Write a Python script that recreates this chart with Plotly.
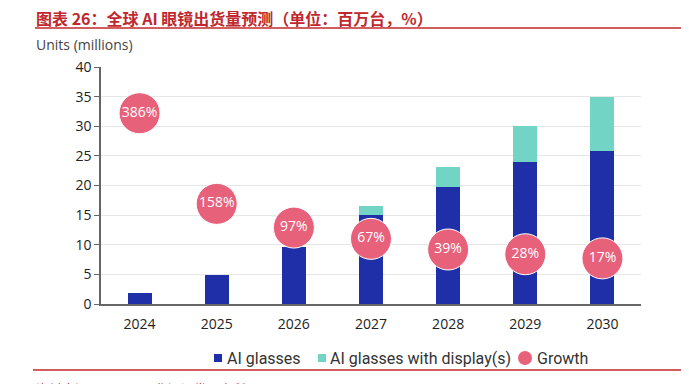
import plotly.graph_objects as go

years = ["2024", "2025", "2026", "2027", "2028", "2029", "2030"]
ai_glasses = [1.9, 4.9, 9.7, 15, 19.7, 24, 25.8]
ai_display = [0, 0, 0, 1.6, 3.5, 6, 9.2]
growth_labels = ["386%", "158%", "97%", "67%", "39%", "28%", "17%"]
growth_pos = [32.2, 16.9, 12.9, 11.0, 9.2, 8.4, 7.7]
y_ticks = [0, 5, 10, 15, 20, 25, 30, 35, 40]
legend_names = ["AI glasses", "AI glasses with display(s)", "Growth"]

BLUE = "#1f2fa8"
TEAL = "#72d4c4"
PINK = "#e8617b"
RED = "#c0282d"

# page has an 8px body margin; plot area in page pixels: x 101..641, y 67..304
OFF = 8
W, H = 689 - OFF, 384 - OFF
PL, PR, PT, PB = 101, 641, 67, 304
L, R, T, B = PL - OFF, W - (PR - OFF), PT - OFF, H - (PB - OFF)
pw, ph = PR - PL, PB - PT


def px(x):
    return (x - PL) / pw


def py(y):
    return (PB - y) / ph


fig = go.Figure()
fig.add_trace(go.Bar(x=years, y=ai_glasses, name=legend_names[0], marker_color=BLUE,
                     marker_line_width=0, width=0.31))
fig.add_trace(go.Bar(x=years, y=ai_display, name=legend_names[1], marker_color=TEAL,
                     marker_line_width=0, width=0.31))
fig.add_trace(go.Scatter(x=years, y=growth_pos, name=legend_names[2], mode="markers+text",
                         marker=dict(color=PINK, size=41, line=dict(color="white", width=1)),
                         text=growth_labels, textposition="middle center",
                         textfont=dict(color="white", size=14, family="Open Sans")))

ly = 358
legend_shapes = [
    dict(type="rect", xref="paper", yref="paper", x0=px(214), x1=px(222), y0=py(362), y1=py(354),
         fillcolor=BLUE, line=dict(width=0)),
    dict(type="rect", xref="paper", yref="paper", x0=px(318), x1=px(326), y0=py(362), y1=py(354),
         fillcolor=TEAL, line=dict(width=0)),
    dict(type="circle", xref="paper", yref="paper", x0=px(518), x1=px(532), y0=py(365), y1=py(351),
         fillcolor=PINK, line=dict(width=0)),
]
legend_font = dict(size=16, color="#333", family="Liberation Sans Narrow, Roboto")
legend_ann = [
    dict(text=legend_names[0], xref="paper", yref="paper", x=px(225), y=py(ly), xanchor="left",
         yanchor="middle", showarrow=False, font=legend_font),
    dict(text=legend_names[1], xref="paper", yref="paper", x=px(328), y=py(ly), xanchor="left",
         yanchor="middle", showarrow=False, font=legend_font),
    dict(text=legend_names[2], xref="paper", yref="paper", x=px(535), y=py(ly), xanchor="left",
         yanchor="middle", showarrow=False, font=legend_font),
]

fig.update_layout(
    width=W, height=H,
    margin=dict(l=L, r=R, t=T, b=B),
    barmode="stack",
    plot_bgcolor="white", paper_bgcolor="white",
    font=dict(family="Open Sans", color="#333"),
    showlegend=False,
    xaxis=dict(range=[-0.5, 6.5], showline=True, linecolor="#666", linewidth=1.5, ticks="",
               ticklabelstandoff=6,
               tickfont=dict(size=14, color="#222", family="Open Sans"), showgrid=False),
    yaxis=dict(range=[0, 40], tickvals=y_ticks, showline=True, linecolor="#666", linewidth=1.5,
               ticks="outside", ticklen=5, tickcolor="#666", gridcolor="#e6e6e6",
               tickfont=dict(size=14, color="#222", family="Open Sans"), zeroline=False),
    shapes=[
        dict(type="line", xref="paper", yref="paper", x0=px(35), x1=px(686), y0=py(28), y1=py(28),
             line=dict(color=RED, width=1.5)),
        dict(type="line", xref="paper", yref="paper", x0=px(33), x1=px(686), y0=py(370), y1=py(370),
             line=dict(color=RED, width=1.5)),
    ] + legend_shapes,
    annotations=[
        dict(text="<b>图表 26：全球 AI 眼镜出货量预测（单位：百万台，%）</b>", xref="paper", yref="paper",
             x=px(34), y=py(18.5), xanchor="left", yanchor="middle", showarrow=False,
             font=dict(size=16, color=RED, family="Noto Sans CJK SC")),
        dict(text="Units (millions)", xref="paper", yref="paper", x=px(34), y=py(44),
             xanchor="left", yanchor="middle", showarrow=False,
             font=dict(size=14, color="#444", family="Open Sans")),
        dict(text="资料来源：Omdia，华源证券研究所", xref="paper", yref="paper", x=px(34), y=py(377),
             xanchor="left", yanchor="top", showarrow=False,
             font=dict(size=13, color=RED, family="Noto Sans CJK SC")),
    ] + legend_ann,
)

fig.write_html("out.html")
